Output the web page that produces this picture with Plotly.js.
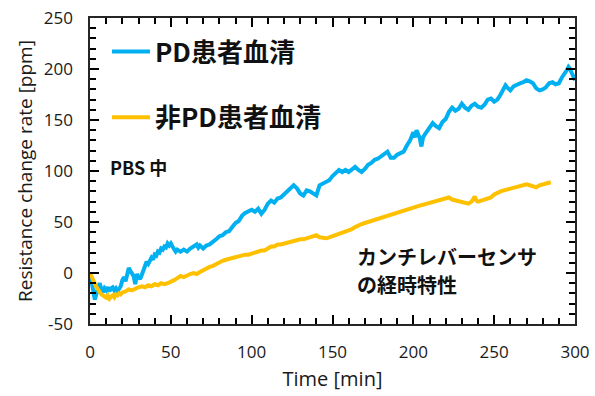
<!DOCTYPE html>
<html>
<head>
<meta charset="utf-8">
<script src="https://cdn.plot.ly/plotly-3.0.1.min.js"></script>
<style>html,body{margin:0;padding:0;background:#fff;}#chart{width:595px;height:396px;}</style>
</head>
<body>
<div id="chart"></div>
<script>
// PD patient serum (blue)
const pdTime = [0,1,2,3,4,5,6,7,8,9,10,11,12,13,14,15,16,17,18,19,20,21,22,23,24,25,26,27,28,29,30,31,32,33,34,35,36,37,38,39,40,41,42,43,44,45,46,47,48,49,50,51,52,53,54,56,58,60,62,64,66,67,68,70,72,74,76,78,80,82,84,86,88,90,92,94,96,98,100,102,104,106,108,110,112,114,116,118,120,122,124,126,128,130,132,134,136,138,140,142,144,146,148,150,152,154,156,158,160,162,164,166,168,170,172,174,176,178,180,182,184,186,188,190,192,194,196,198,200,201,202,204,205,206,208,210,212,214,216,218,220,222,224,226,228,230,232,234,236,238,240,242,244,246,248,250,252,254,256,257,258,260,262,264,266,268,270,272,274,276,278,280,282,284,286,288,290,292,294,295,296,297,298,300];
const pdValue = [0,-8,-14,-26,-20,-14,-10,-16,-19,-15,-17,-14,-18,-15,-14,-17,-15,-18,-16,-13,-7,-4,-8,-2,5,2,0,-3,-11,-1,-4,-6,-2,3,9,11,9,12,15,13,18,17,21,20,24,23,26,25,29,27,29,26,24,21,23,21,23,21,24,26,28,25,27,24,27,28,30,33,36,37,40,41,45,49,51,56,59,61,62,60,63,58,62,68,71,69,73,74,77,79,82,86,83,78,76,81,80,78,76,86,88,90,91,95,98,101,99,101,99,102,104,101,99,102,106,108,111,112,114,116,119,113,113,116,117,119,125,130,138,133,140,132,124,133,138,143,147,144,142,148,151,158,162,159,161,166,162,160,164,166,163,162,165,170,171,168,170,175,181,184,182,179,183,185,186,187,189,188,186,181,179,180,182,186,187,185,186,192,196,199,202,200,196,189];

// non-PD serum (orange)
const nonPdTime = [0,1,2,3,4,5,6,7,8,9,10,11,12,13,14,15,16,17,18,19,20,22,24,26,28,30,32,34,36,38,40,42,44,46,48,50,52,54,56,58,60,62,64,66,68,70,72,74,76,78,80,82,84,86,88,90,92,94,96,98,100,102,104,106,108,110,112,114,116,118,120,122,124,126,128,130,132,134,136,138,140,142,144,146,148,150,152,154,156,158,160,162,164,166,168,170,172,174,176,178,180,182,184,186,188,190,192,194,196,198,200,202,204,206,208,210,212,214,216,218,220,222,224,226,228,230,232,234,236,238,239,240,242,244,246,248,250,252,254,256,258,260,262,264,266,268,270,272,274,276,278,280,282,284,285];
const nonPdValue = [0,-4,-8,-11,-14,-16,-19,-21,-22,-23,-24,-22,-25,-23,-22,-24,-21,-22,-20,-21,-19,-18,-16,-17,-15,-14,-13,-14,-12,-13,-11,-12,-10,-11,-10,-9,-7,-5,-3,-4,-2,-1,0,-1,1,3,4,6,7,9,10,12,13,14,15,16,17,17,18,18,19,21,21,22,22,24,26,26,28,28,29,30,31,31,32,33,33,34,35,36,37,35,34,34,35,36,37,38,40,41,42,43,45,47,48,49,50,50,51,52,53,54,55,56,57,58,59,60,61,62,63,65,66,67,67,68,70,70,71,72,74,74,72,71,70,70,69,68,70,75,71,70,71,72,73,74,77,79,80,81,82,83,84,84,85,86,87,86,85,84,86,87,87,88,89];

const seriesNames = ['PD患者血清', '非PD患者血清'];
const xTicks = [0,50,100,150,200,250,300];
const yTicks = [-50,0,50,100,150,200,250];
const noteLines = ['カンチレバーセンサ', 'の経時特性'];

const traces = [
  {x: pdTime, y: pdValue, type: 'scatter', mode: 'lines', name: seriesNames[0], legendgroup: 'a',
   line: {color: '#00B0F0', width: 4}},
  {x: nonPdTime, y: nonPdValue, type: 'scatter', mode: 'lines', name: seriesNames[1], legendgroup: 'b',
   line: {color: '#FFC000', width: 4}}
];

const tickFont = {family: 'Open Sans, sans-serif', size: 17, color: '#1a1a1a'};
function axis(extra) {
  return Object.assign({
    showgrid: false, zeroline: false, showline: true, linecolor: '#262626', linewidth: 1.6,
    mirror: 'ticks', ticks: 'inside', ticklen: 9, tickwidth: 2, tickcolor: '#000000',
    tickfont: tickFont, tickmode: 'array',
    minor: {ticks: 'inside', ticklen: 6, tickwidth: 2, tickcolor: '#000000', tickmode: 'linear', tick0: 0, dtick: 10, showgrid: false}
  }, extra);
}

const layout = {
  width: 595, height: 396,
  margin: {l: 90, r: 20, t: 18, b: 72},
  paper_bgcolor: '#fff', plot_bgcolor: '#fff',
  showlegend: true,
  legend: {x: (107-90)/485, y: 0.967, xanchor: 'left', yanchor: 'top', bgcolor: 'rgba(0,0,0,0)',
           itemwidth: 38,
           font: {family: 'Noto Sans CJK JP, sans-serif', size: 26, color: '#111', weight: 'bold'},
           tracegroupgap: 29},
  xaxis: axis({
    range: [0, 300], tickvals: xTicks, ticktext: xTicks.map(String), ticklabelstandoff: 12,
    title: {text: 'Time [min]', font: {family: 'Open Sans, sans-serif', size: 20, color: '#1a1a1a'}, standoff: 10}
  }),
  yaxis: axis({
    range: [-50, 250], tickvals: yTicks, ticktext: yTicks.map(String), ticklabelstandoff: 12,
    title: {text: 'Resistance change rate [ppm]', font: {family: 'Open Sans, sans-serif', size: 19, color: '#1a1a1a'}, standoff: 6}
  }),
  annotations: [
    {xref: 'paper', yref: 'paper', x: (108-90)/485, y: (324-167)/306, xanchor: 'left', yanchor: 'middle',
     text: 'PBS 中', showarrow: false,
     font: {family: 'Noto Sans CJK JP, sans-serif', size: 18, color: '#111', weight: 'bold'}},
    {xref: 'paper', yref: 'paper', x: (356-90)/485, y: (324-256)/306, xanchor: 'left', yanchor: 'middle',
     text: noteLines[0], showarrow: false, borderpad: 0,
     font: {family: 'Noto Sans CJK JP, sans-serif', size: 20, color: '#111', weight: 'bold'}},
    {xref: 'paper', yref: 'paper', x: (356-90)/485, y: (324-284)/306, xanchor: 'left', yanchor: 'middle',
     text: noteLines[1], showarrow: false, borderpad: 0,
     font: {family: 'Noto Sans CJK JP, sans-serif', size: 20, color: '#111', weight: 'bold'}}
  ]
};

Plotly.newPlot('chart', traces, layout, {displayModeBar: false, staticPlot: true});
</script>
</body>
</html>
